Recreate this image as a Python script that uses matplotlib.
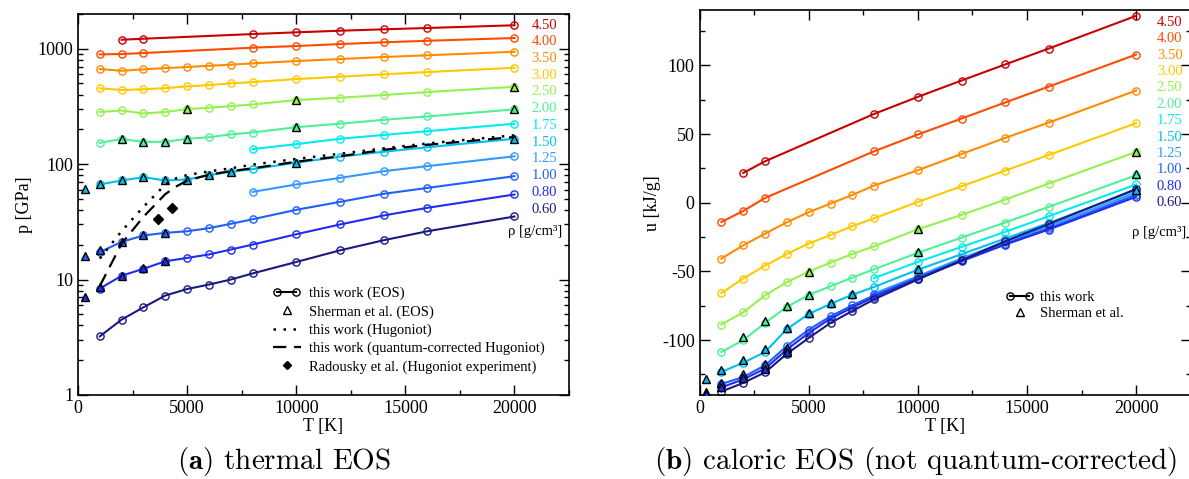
import matplotlib
matplotlib.use('Agg')
import matplotlib.pyplot as plt
from matplotlib.lines import Line2D
from matplotlib.legend_handler import HandlerLine2D
from matplotlib import ticker

# ---- data ----
T_all = [1000, 2000, 3000, 4000, 5000, 6000, 7000, 8000, 10000, 12000, 14000, 16000, 20000]
T_hi = [8000, 10000, 12000, 14000, 16000, 20000]
T_450 = [2000, 3000, 8000, 10000, 12000, 14000, 16000, 20000]
T_400 = [1000, 2000, 3000, 8000, 10000, 12000, 14000, 16000, 20000]

rho_labels = ['4.50', '4.00', '3.50', '3.00', '2.50', '2.00', '1.75', '1.50', '1.25', '1.00', '0.80', '0.60']
rho_colors = ['#c80000', '#ff4b00', '#ff8c00', '#ffc800', '#96f050', '#50f096',
              '#00eaf0', '#00c0f0', '#3399ff', '#1f5fff', '#1e2df0', '#1a1a80']
rho_T = [T_450, T_400, T_all, T_all, T_all, T_all, T_hi, T_all, T_hi, T_all, T_all, T_all]

# pressure [GPa], thermal EOS
p_450 = [1197, 1221, 1340, 1387, 1432, 1473, 1512, 1597]
p_400 = [894, 899, 918, 1021, 1055, 1098, 1136, 1172, 1238]
p_350 = [667, 644, 663, 680, 694, 712, 727, 747, 782, 814, 848, 877, 942]
p_300 = [454, 439, 445, 456, 472, 484, 501, 514, 546, 572, 600, 628, 684]
p_250 = [283, 292, 275, 283, 300, 308, 318, 329, 359, 376, 397, 421, 468]
p_200 = [153, 165, 156, 156, 166, 171, 181, 188, 209, 224, 242, 259, 298]
p_175 = [135, 149, 166, 179, 193, 224]
p_150 = [66.7, 72.2, 77.1, 72.2, 73.6, 80.3, 85.8, 90.5, 103, 116, 128, 140, 166]
p_125 = [57.5, 66.7, 76.0, 86.9, 96.1, 117]
p_100 = [17.3, 21.2, 24.1, 25.4, 26.2, 27.9, 30.4, 33.3, 40.2, 47.1, 55.3, 62.2, 78.7]
p_080 = [8.35, 10.8, 12.4, 14.4, 15.4, 16.5, 18.2, 20.1, 24.7, 30.0, 35.9, 41.8, 54.6]
p_060 = [3.22, 4.50, 5.75, 7.27, 8.28, 9.05, 10.0, 11.3, 14.2, 17.9, 21.9, 26.2, 35.2]
p_all = [p_450, p_400, p_350, p_300, p_250, p_200, p_175, p_150, p_125, p_100, p_080, p_060]

# internal energy [kJ/g], caloric EOS
u_450 = [21.7, 30.2, 64.7, 77.1, 89.0, 100.7, 112.3, 136.1]
u_400 = [-14.0, -6.0, 3.5, 37.5, 49.7, 61.3, 73.0, 84.6, 107.9]
u_350 = [-40.7, -31.0, -22.5, -14.2, -6.9, -0.6, 5.7, 12.5, 23.7, 35.5, 47.2, 58.4, 81.7]
u_300 = [-65.7, -55.2, -45.8, -37.3, -29.7, -23.5, -17.1, -11.3, 0.6, 12.0, 23.4, 34.8, 57.9]
u_250 = [-88.7, -79.8, -67.4, -57.9, -50.1, -43.6, -37.3, -31.7, -19.3, -8.9, 2.3, 14.0, 37.0]
u_200 = [-108.7, -100.0, -87.5, -75.8, -67.2, -60.8, -54.5, -48.4, -36.5, -25.4, -14.4, -3.0, 20.0]
u_175 = [-54.8, -43.1, -32.2, -21.2, -9.8, 13.3]
u_150 = [-123.2, -116.5, -108.7, -92.0, -81.0, -73.6, -67.0, -61.3, -48.8, -37.5, -26.1, -14.7, 9.1]
u_125 = [-66.1, -53.5, -40.5, -28.5, -17.0, 7.5]
u_100 = [-132.0, -126.9, -118.4, -104.3, -92.4, -82.7, -74.7, -67.4, -54.5, -41.8, -29.8, -18.6, 5.8]
u_080 = [-134.5, -128.6, -120.8, -106.9, -94.8, -84.4, -76.3, -68.6, -55.2, -42.6, -30.5, -19.5, 4.3]
u_060 = [-137.5, -131.2, -123.5, -110.0, -98.5, -87.5, -78.8, -70.3, -55.9, -42.0, -28.0, -15.5, 10.0]
u_all = [u_450, u_400, u_350, u_300, u_250, u_200, u_175, u_150, u_125, u_100, u_080, u_060]

# Sherman et al. (index into rho_labels, temperatures, p, u)
sh_idx = [4, 5, 7, 9, 10]
sh_T = [[5000, 10000, 20000],
        [2000, 3000, 4000, 5000, 10000, 20000],
        [300, 1000, 2000, 3000, 4000, 5000, 6000, 7000, 10000, 20000],
        [300, 1000, 2000, 3000, 4000],
        [300, 1000, 2000, 3000, 4000]]
sh_p = [[300, 359, 468],
        [165, 156, 156, 166, 209, 298],
        [60.5, 67.5, 72.2, 77.1, 72.2, 73.6, 80.3, 85.8, 103, 166],
        [15.9, 17.9, 21.2, 24.2, 25.4],
        [7.0, 8.6, 10.7, 12.5, 14.6]]
sh_u = [[-50.1, -19.3, 37.0],
        [-97.7, -86.3, -75.2, -66.9, -35.8, 20.8],
        [-128.0, -122.0, -114.2, -106.2, -90.9, -80.0, -72.7, -66.6, -48.4, 9.1],
        [-137.5, -131.5, -124.4, -117.1, -105.5],
        [-139.0, -134.0, -127.3, -120.8, -108.5]]

# Hugoniot curves
hug_T = [1000, 2000, 3000, 4000, 4500, 5000, 6000, 7000, 8000, 10000, 12000, 14000, 16000, 20000]
hug_p = [15.2, 26.3, 42.7, 66.5, 75.5, 80.5, 86.5, 92, 99, 111, 123, 137, 151, 178]
hugq_p = [8.8, 20.5, 35, 55, 64, 72, 81, 87, 92, 105, 117, 133, 147, 172]
rad_T = [3670, 4330]
rad_p = [33.6, 41.8]

plt.rcParams['font.family'] = ['Liberation Serif', 'DejaVu Serif']
plt.rcParams['axes.unicode_minus'] = False
plt.rcParams['mathtext.fontset'] = 'cm'

fig = plt.figure(figsize=(11.89, 4.79), dpi=100)
ax1 = fig.add_axes([0.0656, 0.1754, 0.4130, 0.7954])
ax2 = fig.add_axes([0.5884, 0.1754, 0.4130, 0.8027])

lw = 1.5
ms = 5.2

def style_axis(ax):
    ax.tick_params(which='both', direction='in', top=True, right=True, labelsize=13, width=1)
    ax.tick_params(which='major', length=7)
    ax.tick_params(which='minor', length=3.5)
    for s in ax.spines.values():
        s.set_linewidth(1.2)
    ax.set_xlim(0, 22500)
    ax.xaxis.set_major_locator(ticker.MultipleLocator(5000))
    ax.xaxis.set_minor_locator(ticker.MultipleLocator(2500))
    ax.set_xlabel('T [K]', fontsize=13, labelpad=1)

# ---- (a) thermal EOS ----
for T, p, c in zip(rho_T, p_all, rho_colors):
    ax1.plot(T, p, '-o', color=c, lw=lw, ms=ms, mfc='none', mec=c, mew=1.0)
for i, T, p in zip(sh_idx, sh_T, sh_p):
    ax1.plot(T, p, '^', ls='none', ms=ms + 0.5, mfc=rho_colors[i], mec='black', mew=1.0, zorder=4)
ax1.plot(hug_T, hug_p, color='black', lw=1.8, ls=(0, (1, 3)), zorder=5)
ax1.plot(hug_T, hugq_p, color='black', lw=1.6, ls=(0, (6, 3.5)), zorder=5)
ax1.plot(rad_T, rad_p, 'D', color='black', ms=5, ls='none', zorder=5)

ax1.set_yscale('log')
ax1.set_ylim(1, 2000)
ax1.yaxis.set_major_formatter(ticker.FuncFormatter(lambda v, _: f'{v:g}'))
ax1.yaxis.set_minor_formatter(ticker.NullFormatter())
style_axis(ax1)
ax1.set_ylabel('p [GPa]', fontsize=13, labelpad=3)

for k, (lab, c) in enumerate(zip(rho_labels, rho_colors)):
    ax1.text(0.924, 0.971 - k * 0.0439, lab, color=c, fontsize=10.5,
             transform=ax1.transAxes, ha='left', va='center')
ax1.text(0.986, 0.428, 'ρ [g/cm³]', fontsize=10.5, transform=ax1.transAxes, ha='right', va='center')

h_eos = Line2D([], [], color='black', lw=lw, marker='o', ms=ms, mfc='none', mec='black')
h_sh = Line2D([], [], ls='none', marker='^', ms=ms, mfc='white', mec='black', mew=1.0)
h_hug = Line2D([], [], color='black', lw=1.8, ls=(0, (1, 3)))
h_hugq = Line2D([], [], color='black', lw=1.6, ls=(0, (6, 3.5)))
h_rad = Line2D([], [], ls='none', marker='D', ms=4.5, color='black')
ax1.legend([h_eos, h_sh, h_hug, h_hugq, h_rad],
           ['this work (EOS)', 'Sherman et al. (EOS)', 'this work (Hugoniot)',
            'this work (quantum-corrected Hugoniot)', 'Radousky et al. (Hugoniot experiment)'],
           handler_map={h_eos: HandlerLine2D(numpoints=2)},
           loc='upper left', bbox_to_anchor=(0.397, 0.2835), frameon=False, fontsize=10.5,
           borderpad=0, borderaxespad=0, handlelength=1.9, handletextpad=0.6, labelspacing=0.33)

# ---- (b) caloric EOS ----
for T, u, c in zip(rho_T, u_all, rho_colors):
    ax2.plot(T, u, '-o', color=c, lw=lw, ms=ms, mfc='none', mec=c, mew=1.0)
for i, T, u in zip(sh_idx, sh_T, sh_u):
    ax2.plot(T, u, '^', ls='none', ms=ms + 0.5, mfc=rho_colors[i], mec='black', mew=1.0, zorder=4)

ax2.set_ylim(-140, 140)
ax2.yaxis.set_major_locator(ticker.MultipleLocator(50))
ax2.yaxis.set_minor_locator(ticker.MultipleLocator(25))
style_axis(ax2)
ax2.set_ylabel('u [kJ/g]', fontsize=13, labelpad=1)

for k, (lab, c) in enumerate(zip(rho_labels, rho_colors)):
    ax2.text(0.931, 0.969 - k * 0.0426, lab, color=c, fontsize=10.5,
             transform=ax2.transAxes, ha='left', va='center')
ax2.text(0.991, 0.423, 'ρ [g/cm³]', fontsize=10.5, transform=ax2.transAxes, ha='right', va='center')

h_eos2 = Line2D([], [], color='black', lw=lw, marker='o', ms=ms, mfc='none', mec='black')
h_sh2 = Line2D([], [], ls='none', marker='^', ms=ms, mfc='white', mec='black', mew=1.0)
ax2.legend([h_eos2, h_sh2], ['this work', 'Sherman et al.'],
           handler_map={h_eos2: HandlerLine2D(numpoints=2)},
           loc='upper left', bbox_to_anchor=(0.624, 0.2720), frameon=False, fontsize=10.5,
           borderpad=0, borderaxespad=0, handlelength=1.9, handletextpad=0.45, labelspacing=0.2)

# captions
fig.text(0.239, 0.036, r'$\mathbf{(a)}$ thermal EOS', fontsize=21, family='cmr10',
         ha='center', va='center')
fig.text(0.770, 0.036, r'$\mathbf{(b)}$ caloric EOS (not quantum-corrected)', fontsize=21,
         family='cmr10', ha='center', va='center')

fig.savefig('out.png', dpi=100)
